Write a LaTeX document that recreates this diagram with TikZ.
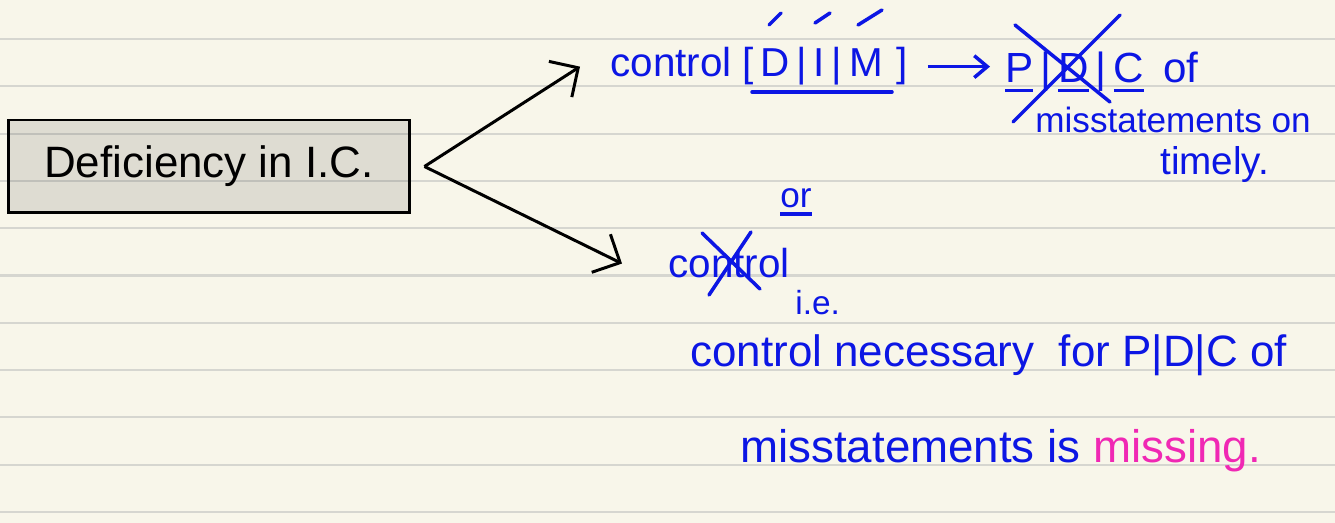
\documentclass[tikz,border=0pt]{standalone}
\usepackage{fontspec}
\setmainfont{Liberation Sans}
\usepackage{tikz}
\usetikzlibrary{arrows.meta,positioning}
\usepackage{xcolor}

\definecolor{paper}{RGB}{248,246,234}
\definecolor{ruling}{RGB}{214,214,208}
\definecolor{inkblue}{RGB}{12,22,228}
\definecolor{inkpink}{RGB}{240,40,180}

% thick pen underline
\newcommand\inkline[1]{\setbox0\hbox{#1}\rlap{\raisebox{-0.22em}{\rule{\wd0}{2pt}}}\box0}

\begin{document}
\begin{tikzpicture}[
  x=0.02cm, y=-0.02cm,
  hand/.style={font=\fontsize{#1}{#1}\selectfont, text=inkblue, inner sep=0pt, anchor=base west},
  hand/.default=24,
  frame/.style={draw=black, line width=1.7pt, fill=black, fill opacity=0.1, text opacity=1,
                minimum width=8.04cm, minimum height=1.86cm, font=\fontsize{25}{25}\selectfont},
  arrow/.style={-{Straight Barb[angle=90:6mm]}, line width=1.7pt},
  link/.style={-{Straight Barb[angle=80:3.4mm]}, line width=2pt, draw=inkblue},
  strike/.style={draw=inkblue, line width=2pt, line cap=round}
]
  \useasboundingbox (0,0) rectangle (1335,523);

  % Lined paper
  \fill[paper] (0,0) rectangle (1335,523);
  \foreach \i in {0,...,10}
    \draw[ruling, line width=1.2pt] (0,39+47.3*\i) -- (1335,39+47.3*\i);

  % Topic box
  \node[frame] (defic) at (209,166.5) {Deficiency in I.C.\hspace{0.6em}};

  % Upper branch
  \node[hand=23] (ctrl) at (610,77) {control [\,D\,|\,I\,|\,M\,\,]};
  \node[hand] (pdc) at (1005,83) {\inkline{P}\,|\,\inkline{D}\,|\,\inkline{C}\, of};
  \node[hand=20] (mis) at (1035,133) {misstatements on};
  \node[hand=22] (timely) at (1160,175) {timely.};

  % Lower branch
  \node[hand=20] (or) at (780,208) {\inkline{or}};
  \node[hand=23] (ctrlx) at (668,278) {control};
  \node[hand=19] (ie) at (795,315) {i.e.};
  \node[hand=25] (line1) at (690,367) {control necessary\ \ for P|D|C of};
  \node[hand=26] (line2) at (740,462) {misstatements is \textcolor{inkpink}{missing.}};

  % Arrows
  \draw[arrow] ([shift={(13,0)}]defic.east) -- ([shift={(-30,0)}]ctrl.west);
  \draw[arrow] ([shift={(13,0)}]defic.east) -- ([shift={(-46,0)}]ctrlx.west);
  \draw[link, shorten <=0.4cm, shorten >=0.3cm] (ctrl.east) -- (ctrl.east -| pdc.west);

  % Marks and crossings
  \draw[strike] (752,92) -- (892,92);
  \draw[strike] (769,25) -- (781,13);
  \draw[strike] (815,23) -- (830,13);
  \draw[strike] (858,25) -- (882,10);
  \draw[strike] (1015,25) -- (1110,102);
  \draw[strike] (1120,15) -- (1013,122);
  \draw[strike] (702,233) -- (760,289);
  \draw[strike] (751,232) -- (709,295);
\end{tikzpicture}
\end{document}
